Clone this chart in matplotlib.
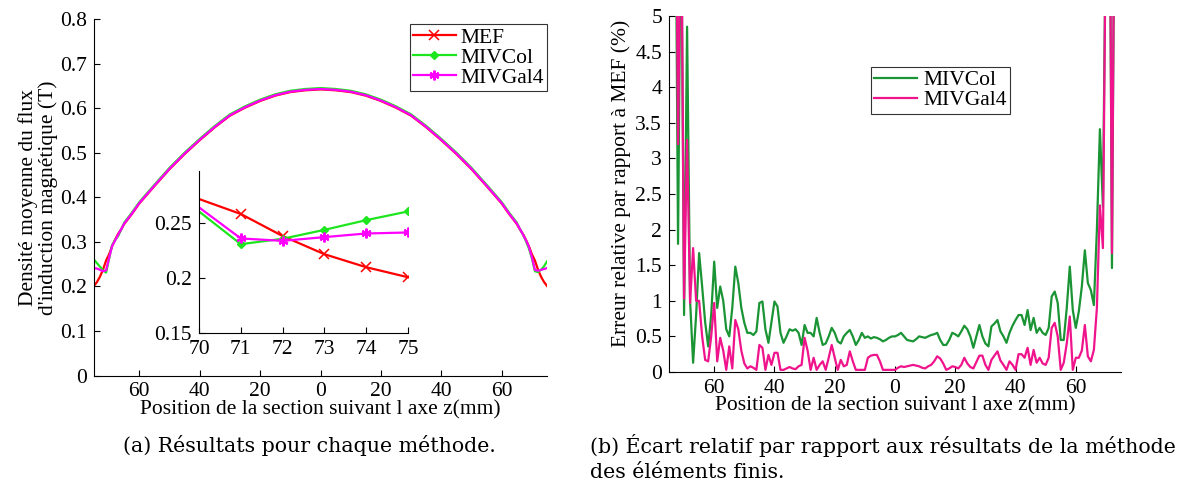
import matplotlib
matplotlib.use("Agg")
import matplotlib.pyplot as plt
from matplotlib.lines import Line2D
from matplotlib.ticker import FuncFormatter

plt.rcParams['font.family'] = ['Liberation Serif', 'DejaVu Serif']

# ---------------- data: main plot (a) ----------------
z_main = [-75, -74, -73, -72, -71, -70, -69, -68, -67, -66, -65, -62.5, -60, -55, -50, -45,
          -40, -35, -30, -25, -20, -15, -10, -5, 0, 5, 10, 15, 20, 25, 30, 35, 40, 45, 50,
          55, 60, 62.5, 65, 66, 67, 68, 69, 70, 71, 72, 73, 74, 75]
b_mef = [0.201, 0.210, 0.222, 0.238, 0.258, 0.272, 0.290, 0.305, 0.318, 0.328, 0.340, 0.362,
         0.386, 0.425, 0.463, 0.497, 0.528, 0.557, 0.583, 0.601, 0.616, 0.628, 0.636, 0.640,
         0.642, 0.640, 0.636, 0.628, 0.616, 0.601, 0.583, 0.557, 0.528, 0.497, 0.463, 0.425,
         0.386, 0.362, 0.340, 0.328, 0.318, 0.305, 0.290, 0.272, 0.258, 0.238, 0.222, 0.210,
         0.201]
b_col = [0.260, 0.252, 0.244, 0.236, 0.231, 0.262, 0.293, 0.304, 0.313, 0.327, 0.343, 0.365,
         0.389, 0.428, 0.466, 0.500, 0.531, 0.560, 0.586, 0.604, 0.619, 0.631, 0.639, 0.643,
         0.645, 0.643, 0.639, 0.631, 0.619, 0.604, 0.586, 0.560, 0.531, 0.500, 0.466, 0.428,
         0.389, 0.365, 0.343, 0.329, 0.317, 0.302, 0.285, 0.263, 0.234, 0.232, 0.237, 0.245,
         0.256]
b_gal = [0.241, 0.240, 0.237, 0.234, 0.236, 0.264, 0.291, 0.303, 0.316, 0.328, 0.341, 0.363,
         0.387, 0.426, 0.464, 0.498, 0.529, 0.558, 0.584, 0.602, 0.617, 0.629, 0.637, 0.641,
         0.643, 0.641, 0.637, 0.629, 0.617, 0.602, 0.584, 0.558, 0.529, 0.498, 0.464, 0.426,
         0.387, 0.363, 0.341, 0.329, 0.317, 0.304, 0.289, 0.266, 0.237, 0.235, 0.237, 0.239,
         0.241]

# inset data
z_in = [70, 71, 72, 73, 74, 75]
in_mef = [0.2716, 0.258, 0.238, 0.2215, 0.2097, 0.2006]
in_col = [0.2603, 0.2306, 0.2355, 0.2436, 0.2524, 0.2603]
in_gal = [0.264, 0.2358, 0.2336, 0.237, 0.2403, 0.2412]

# ---------------- data: relative error plot (b) ----------------
z_err = list(range(-75, 76))
err_col = [12, 10, 8, 1.8, 7, 0.8, 4.85, 1.0, 0.13, 0.8,
           1.67, 1.2, 0.7, 0.36, 0.8, 1.55, 0.9, 1.2, 1.0, 0.6,
           0.5, 0.9, 1.48, 1.25, 0.9, 0.69, 0.55, 0.55, 0.52, 0.57,
           0.97, 0.99, 0.6, 0.41, 0.7, 0.99, 0.92, 0.55, 0.41, 0.5,
           0.6, 0.58, 0.6, 0.55, 0.38, 0.66, 0.55, 0.55, 0.5, 0.76,
           0.55, 0.38, 0.4, 0.5, 0.62, 0.55, 0.43, 0.4, 0.5, 0.55,
           0.59, 0.5, 0.38, 0.45, 0.55, 0.48, 0.5, 0.47, 0.49, 0.48,
           0.46, 0.43, 0.45, 0.48, 0.5,
           0.5,
           0.52, 0.55, 0.5, 0.45, 0.44, 0.43, 0.46, 0.5, 0.49, 0.48,
           0.5, 0.52, 0.53, 0.55, 0.45, 0.38, 0.38, 0.45, 0.55, 0.53,
           0.5, 0.57, 0.65, 0.6, 0.5, 0.34, 0.5, 0.66, 0.5, 0.4,
           0.36, 0.64, 0.68, 0.73, 0.57, 0.5, 0.41, 0.55, 0.65, 0.73,
           0.8, 0.8, 0.66, 0.87, 0.59, 0.76, 0.55, 0.62, 0.55, 0.52,
           0.62, 1.06, 1.13, 0.97, 0.45, 0.45, 0.9, 1.48, 0.87, 0.62,
           0.85, 1.2, 1.71, 1.25, 1.15, 0.94, 2.0, 3.41, 2.32, 6.5,
           9, 1.46, 8, 10, 12]
err_gal = [12, 11, 9, 3.2, 7, 1.03, 3.26, 0.97, 1.74, 1.0,
           1.0, 0.5, 0.17, 0.15, 0.5, 0.97, 0.15, 0.48, 0.3, 0.03,
           0.36, 0.05, 0.73, 0.6, 0.3, 0.12, 0.05, 0.08, 0.06, 0.03,
           0.38, 0.34, 0.03, 0.24, 0.1, 0.27, 0.27, 0.03, 0.03, 0.05,
           0.07, 0.05, 0.04, 0.08, 0.1, 0.48, 0.3, 0.03, 0.2, 0.03,
           0.1, 0.15, 0.03, 0.2, 0.38, 0.2, 0.03, 0.17, 0.08, 0.1,
           0.29, 0.15, 0.03, 0.03, 0.03, 0.03, 0.2, 0.23, 0.24, 0.24,
           0.15, 0.03, 0.03, 0.03, 0.03,
           0.03,
           0.06, 0.08, 0.07, 0.08, 0.09, 0.1, 0.09, 0.08, 0.06, 0.05,
           0.08, 0.1, 0.15, 0.22, 0.19, 0.12, 0.03, 0.05, 0.08, 0.07,
           0.05, 0.1, 0.2, 0.12, 0.07, 0.05, 0.14, 0.23, 0.23, 0.1,
           0.03, 0.17, 0.23, 0.29, 0.16, 0.1, 0.03, 0.15, 0.1, 0.03,
           0.25, 0.25, 0.2, 0.34, 0.1, 0.31, 0.13, 0.2, 0.12, 0.1,
           0.2, 0.62, 0.69, 0.5, 0.03, 0.13, 0.4, 0.78, 0.03, 0.2,
           0.2, 0.3, 0.66, 0.22, 0.15, 0.31, 0.9, 2.34, 1.74, 6.5,
           9, 1.67, 8, 10, 12]

labels_a = ['MEF', 'MIVCol', 'MIVGal4']
labels_b = ['MIVCol', 'MIVGal4']
xticks = [-60, -40, -20, 0, 20, 40, 60]

c_red, c_lgreen, c_mag = '#ff0000', '#1ee61e', '#ff00ff'
c_dgreen, c_pink = '#1a9434', '#f0148c'

FS = 15.5
fig = plt.figure(figsize=(11.93, 4.86), dpi=100)
W, H = 1193, 486

def style(ax):
    for s in ['top', 'right']:
        ax.spines[s].set_visible(False)
    for s in ['left', 'bottom']:
        ax.spines[s].set_linewidth(0.8)
    ax.tick_params(direction='in', length=4, width=0.8, labelsize=FS)
    ax.tick_params(axis='x', pad=5)
    ax.tick_params(axis='y', pad=5)

absfmt = FuncFormatter(lambda v, p: '%g' % abs(v))
gfmt = FuncFormatter(lambda v, p: '%g' % v)

# ---- (a) ----
ax1 = fig.add_axes([94 / W, (H - 375.5) / H, 453 / W, 356.5 / H])
style(ax1)
ax1.plot(z_main, b_mef, color=c_red, lw=1.6)
ax1.plot(z_main, b_col, color=c_lgreen, lw=1.6)
ax1.plot(z_main, b_gal, color=c_mag, lw=1.6)
ax1.set_xlim(-75, 75)
ax1.set_ylim(0, 0.8)
ax1.set_xticks(xticks)
ax1.xaxis.set_major_formatter(absfmt)
ax1.set_yticks([0, 0.1, 0.2, 0.3, 0.4, 0.5, 0.6, 0.7, 0.8])
ax1.yaxis.set_major_formatter(gfmt)
ax1.set_xlabel('Position de la section suivant l axe z(mm)', fontsize=FS, labelpad=-1)
ax1.set_ylabel("Densité moyenne du flux\nd'induction magnétique (T)", fontsize=FS,
               linespacing=1.0)
ax1.yaxis.set_label_coords(-0.08, 0.5)

handles = [
    Line2D([], [], color=c_red, lw=1.6, marker='x', ms=6.5, mew=1.1),
    Line2D([], [], color=c_lgreen, lw=1.6, marker='D', ms=4.5),
    Line2D([], [], color=c_mag, lw=1.6, marker=(6, 2, 0), ms=7, mew=1.6),
]
leg1 = ax1.legend(handles, labels_a, loc='upper right', bbox_to_anchor=(1.0, 0.985),
                  fontsize=FS, frameon=True, fancybox=False, handlelength=2.0,
                  handletextpad=0.2, borderpad=0.15, labelspacing=0.0, borderaxespad=0.0)
leg1.get_frame().set_edgecolor('black')
leg1.get_frame().set_linewidth(0.8)

# inset
axin = fig.add_axes([199 / W, (H - 333) / H, 209 / W, 162 / H])
style(axin)
axin.patch.set_alpha(0)
axin.plot(z_in, in_mef, color=c_red, lw=1.6, marker='x', ms=6.5, mew=1.1, markevery=[1, 2, 3, 4, 5])
axin.plot(z_in, in_col, color=c_lgreen, lw=1.6, marker='D', ms=4.5, markevery=[1, 2, 3, 4, 5])
axin.plot(z_in, in_gal, color=c_mag, lw=1.6, marker=(6, 2, 0), ms=7, mew=1.6,
          markevery=[1, 2, 3, 4, 5])
axin.set_xlim(70, 75)
axin.set_ylim(0.15, 0.297)
axin.set_xticks(z_in)
axin.set_yticks([0.15, 0.2, 0.25])
axin.yaxis.set_major_formatter(gfmt)

# ---- (b) ----
ax2 = fig.add_axes([669 / W, (H - 372) / H, 452 / W, 356 / H])
style(ax2)
ax2.plot(z_err, err_col, color=c_dgreen, lw=1.6)
ax2.plot(z_err, err_gal, color=c_pink, lw=1.6)
ax2.set_xlim(-75, 75)
ax2.set_ylim(0, 5)
ax2.set_xticks(xticks)
ax2.xaxis.set_major_formatter(absfmt)
ax2.set_yticks([0, 0.5, 1, 1.5, 2, 2.5, 3, 3.5, 4, 4.5, 5])
ax2.yaxis.set_major_formatter(gfmt)
ax2.set_xlabel('Position de la section suivant l axe z(mm)', fontsize=FS, labelpad=-1)
ax2.set_ylabel('Erreur relative par rapport à MEF (%)', fontsize=FS)
ax2.yaxis.set_label_coords(-0.085, 0.53)
leg2 = ax2.legend(labels_b, loc='upper left', bbox_to_anchor=(202 / 452, 1 - 51 / 356),
                  fontsize=FS, frameon=True, fancybox=False, handlelength=2.0,
                  handletextpad=0.3, borderpad=0.15, labelspacing=0.0, borderaxespad=0.0)
leg2.get_frame().set_edgecolor('black')
leg2.get_frame().set_linewidth(0.8)

# captions
cap = dict(fontsize=14.8, family=['DejaVu Serif'], va='center')
fig.text(309 / W, 1 - 445 / H, '(a) Résultats pour chaque méthode.', ha='center', **cap)
fig.text(590 / W, 1 - 445 / H, '(b) Écart relatif par rapport aux résultats de la méthode',
         ha='left', **cap)
fig.text(590 / W, 1 - 472 / H, 'des éléments finis.', ha='left', **cap)

fig.savefig('out.png', dpi=100)
